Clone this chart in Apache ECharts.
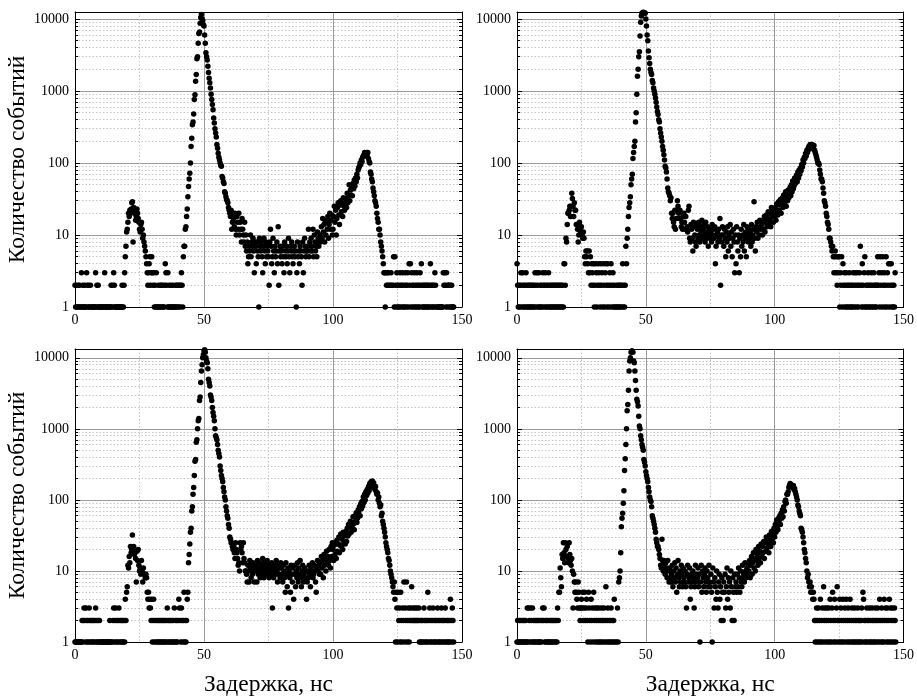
<!DOCTYPE html>
<html>
<head>
<meta charset="utf-8">
<title>Временные спектры задержек</title>
<script src="https://cdn.jsdelivr.net/npm/echarts@6/dist/echarts.min.js"></script>
<style>
  html, body { margin: 0; padding: 0; background: #fff; }
  #chart { width: 917px; height: 698px; }
</style>
</head>
<body>
<div id="chart"></div>
<script>
// Histogram bin width, ns: counts[i] belongs to delay i * BIN_NS
const BIN_NS = 0.25;

// Event counts per bin, 0 .. 150 ns (empty bins are 0 and not plotted)
const countsA = [
  2,1,2,1,1,2,1,2,1,1,3,1,2,1,1,2,1,1,3,2,
  1,2,1,1,2,1,0,1,1,1,1,1,3,1,2,1,2,1,1,1,
  1,1,0,1,1,1,3,1,1,1,1,0,1,1,1,1,2,1,2,1,
  3,2,1,1,1,1,0,1,1,1,1,1,1,2,1,1,2,3,5,7,
  11,12,15,20,18,22,20,23,28,29,8,24,20,22,16,18,23,20,17,15,
  12,11,14,15,12,9,10,8,7,6,5,4,3,2,3,4,5,2,3,5,
  3,2,3,1,2,1,3,1,1,2,1,1,2,1,2,1,2,1,1,2,
  4,3,2,1,3,1,2,1,1,2,1,1,2,1,1,1,2,1,2,1,
  2,1,2,1,2,3,2,1,5,7,7,12,13,18,23,34,47,60,72,100,
  170,220,340,370,480,760,890,1360,1700,2800,3000,4600,6300,6600,8700,10500,11500,10000,9500,8300,
  8000,6000,4600,3400,3000,2700,2200,1800,1500,1300,1100,900,760,650,550,420,360,300,260,230,
  180,160,137,120,110,100,92,90,65,62,55,52,40,38,34,31,30,28,24,22,
  20,18,22,12,15,20,17,13,20,12,10,18,15,12,20,10,15,12,8,17,
  12,10,8,15,7,10,6,8,4,5,7,6,10,5,8,7,9,6,3,8,
  7,4,8,6,5,1,9,7,6,8,5,3,7,9,6,4,8,5,7,6,
  5,2,8,12,7,4,5,9,6,3,7,5,6,8,4,13,2,6,7,5,
  6,4,7,5,3,8,6,5,7,4,6,9,5,3,7,6,8,5,4,6,
  7,5,6,1,3,8,5,6,4,7,6,5,2,8,3,6,9,7,5,6,
  6,7,12,5,8,6,9,7,6,12,5,10,8,6,7,5,11,9,7,8,
  10,8,13,9,17,11,14,8,15,10,16,12,18,9,14,20,12,16,19,10,
  12,18,25,15,22,10,17,24,28,19,14,26,30,21,27,18,33,25,22,28,
  32,24,38,28,35,50,30,42,36,45,35,52,44,58,48,62,55,70,62,80,
  85,90,100,95,110,105,120,125,130,140,125,135,140,130,140,115,105,100,75,70,
  60,55,45,40,35,30,28,25,20,17,15,12,12,10,8,7,6,5,4,3,
  3,1,3,2,3,2,3,2,0,2,3,2,0,2,5,1,5,2,1,3,
  2,1,2,1,3,2,1,2,3,1,2,1,3,2,1,2,3,1,4,2,
  4,1,3,2,1,2,3,1,2,1,3,2,1,2,1,3,2,4,1,2,
  1,2,1,2,1,2,1,2,1,2,1,4,2,1,2,1,2,1,3,2,
  1,0,1,1,0,1,1,1,1,1,1,3,2,3,2,1,3,2,1,2,
  2,1,2,1,2,1,1,1,0,0,0,0,0,0,0,0,0,0,0,0
];

const countsB = [
  4,2,1,2,1,2,3,1,2,3,1,2,1,2,3,1,2,1,2,1,
  2,1,2,1,2,1,2,1,3,2,1,3,2,1,3,1,2,1,2,1,
  3,2,1,2,3,1,2,1,2,3,1,2,1,2,1,2,1,2,1,2,
  1,2,1,2,1,2,1,2,1,2,1,2,1,4,4,2,9,8,14,20,
  20,22,25,18,25,38,32,25,18,28,22,22,14,14,12,8,10,15,12,11,
  13,10,9,11,9,5,4,6,5,6,4,3,6,3,5,2,4,3,2,4,
  1,2,4,3,1,2,4,3,2,1,4,2,3,1,4,2,1,3,4,2,
  1,4,2,1,3,2,4,1,2,3,1,2,1,0,1,2,1,2,1,2,
  1,2,1,2,4,1,2,1,2,7,4,9,12,18,24,28,34,50,60,70,
  115,140,170,200,370,500,900,1600,2000,3000,3500,5800,9000,11000,12000,12200,12400,12300,12200,12000,
  10000,8000,6000,5000,3600,2900,2400,2000,1800,1700,1400,1300,1100,1000,900,800,700,600,520,470,
  400,370,300,260,230,200,170,150,130,110,90,85,75,60,45,40,38,35,30,33,
  20,17,20,15,13,22,12,17,22,30,25,20,17,22,17,13,15,12,18,20,
  15,12,18,12,13,11,22,25,9,8,14,12,9,6,15,13,10,8,7,14,
  12,9,15,10,8,13,11,16,9,12,14,10,8,15,11,9,13,7,10,12,
  9,11,8,14,10,12,9,13,4,7,10,11,8,12,9,17,2,10,8,13,
  10,7,12,9,5,11,8,13,6,10,9,14,7,11,5,9,12,8,3,10,
  4,13,8,6,10,3,9,5,12,7,10,8,14,6,9,11,5,13,10,8,
  12,9,11,7,14,8,10,12,29,9,6,13,11,15,9,12,10,16,13,12,
  14,10,16,12,18,11,15,19,13,17,21,14,20,16,13,24,18,22,15,20,
  18,24,16,27,21,19,29,22,26,31,20,28,33,24,36,27,30,40,25,35,
  30,42,33,38,46,35,50,40,56,44,48,62,52,58,68,55,75,62,80,70,
  85,78,95,88,110,100,120,115,135,125,150,140,160,170,155,180,165,175,180,160,
  170,175,150,140,130,120,110,100,100,95,80,70,60,60,55,45,38,30,28,25,
  20,18,15,14,12,9,9,8,7,6,7,5,3,5,6,3,5,2,3,5,
  5,1,3,2,5,1,4,2,3,1,2,3,1,2,1,2,3,1,2,1,
  2,1,3,2,1,3,2,1,3,2,1,2,3,7,2,1,4,2,1,3,
  5,1,2,1,2,3,1,2,1,2,3,1,2,1,3,2,1,2,1,2,
  5,2,3,1,5,2,3,1,5,2,3,1,2,5,1,3,2,4,1,4,
  2,4,1,2,1,2,1,3,0,0,0,0,0,0,0,0,0,0,0,0
];

const countsC = [
  1,1,1,1,0,1,1,1,1,1,1,2,1,2,3,2,1,3,2,1,
  2,1,3,2,1,2,1,2,1,2,1,2,3,1,2,1,2,1,2,1,
  1,0,1,1,1,0,1,1,1,0,1,1,1,1,2,1,1,0,1,2,
  3,1,2,3,1,2,1,2,3,1,2,1,2,1,2,1,2,1,4,2,
  5,6,12,11,16,13,22,18,20,32,20,22,17,18,15,7,19,14,20,12,
  10,11,9,14,10,7,11,9,9,8,9,8,5,4,5,3,4,3,2,4,
  1,2,4,1,2,0,1,2,1,2,1,2,1,2,1,2,1,2,1,2,
  1,2,1,3,2,1,2,1,2,1,2,1,2,1,3,1,2,1,2,1,
  2,4,3,2,1,3,2,1,2,5,1,2,1,2,4,5,13,17,24,35,
  40,70,80,120,150,220,350,370,650,700,1000,1300,1400,2500,2800,4500,6500,8000,10000,11000,
  12500,13000,12000,10000,9000,8500,7000,5000,4500,4000,3000,2800,2500,2000,1700,1500,1300,1000,800,750,
  700,600,500,450,400,300,260,220,200,180,150,130,110,100,80,70,60,55,45,40,
  30,28,25,25,22,20,22,18,15,25,20,18,15,12,13,10,25,20,22,18,
  13,25,15,13,10,10,9,7,12,10,7,14,11,8,12,9,13,10,7,11,
  12,10,7,14,9,11,13,8,10,12,9,15,11,8,13,10,12,9,14,11,
  10,8,12,11,9,13,3,10,8,12,11,9,14,10,7,12,9,11,8,13,
  11,9,7,12,10,8,5,13,9,6,11,3,10,8,5,12,9,7,11,4,
  9,12,6,10,8,13,7,11,9,14,8,6,10,12,7,9,11,8,10,4,
  7,10,8,12,9,6,11,10,13,8,9,12,10,7,5,11,14,10,12,9,
  13,9,16,11,14,8,17,12,15,10,19,13,16,12,20,14,11,22,16,25,
  20,14,23,17,25,15,27,19,24,30,18,23,33,22,28,20,35,25,31,24,
  36,26,40,31,45,33,42,50,35,47,40,58,46,38,60,50,66,48,55,72,
  68,80,60,88,75,95,82,110,92,120,100,130,115,140,125,155,135,170,150,180,
  165,185,160,175,150,140,155,130,120,125,100,110,90,80,85,60,65,50,45,40,
  35,30,25,22,20,18,15,14,12,10,9,8,7,6,5,7,4,1,5,3,
  1,5,2,3,1,5,2,1,3,2,7,1,3,2,7,1,2,3,1,2,
  3,2,6,2,3,2,2,3,2,2,3,2,2,3,1,2,1,2,1,2,
  1,3,2,1,2,1,2,5,1,2,3,1,2,1,2,3,1,2,1,2,
  1,2,3,1,2,1,2,1,3,2,1,2,1,2,3,1,2,1,2,1,
  2,1,4,2,1,3,2,1,0,0,0,0,0,0,0,0,0,0,0,0
];

const countsD = [
  1,2,1,1,2,1,2,1,1,2,1,2,1,2,1,1,3,1,3,2,
  1,3,2,1,3,1,2,1,2,1,2,1,2,1,2,1,1,2,1,2,
  3,2,3,1,2,1,2,1,2,1,1,2,1,2,1,2,1,2,1,2,
  1,2,1,3,2,5,5,11,8,6,17,15,25,18,13,25,20,16,22,15,
  13,25,17,14,12,15,10,3,9,7,5,7,5,4,3,7,5,3,2,3,
  4,3,5,2,3,5,2,3,4,2,1,5,3,2,1,4,2,3,1,5,
  2,3,1,2,3,1,2,3,1,2,1,3,2,1,2,3,1,2,6,1,
  2,3,1,2,1,2,3,1,2,1,2,4,1,0,1,0,3,1,7,8,
  10,18,42,55,65,90,135,260,380,600,1000,1800,2200,3500,6500,9000,10000,12000,12500,12500,
  12000,9000,8500,6500,4800,3500,2600,2400,2100,1500,1100,1000,800,700,600,550,500,370,340,300,
  250,220,200,180,150,130,110,100,95,80,60,55,50,45,40,35,28,25,22,22,
  20,17,15,12,11,28,14,10,14,12,9,13,11,8,14,10,7,11,8,7,
  9,12,6,10,8,13,7,11,5,9,14,8,6,10,7,12,9,6,11,8,
  7,10,6,3,9,12,7,8,11,4,6,9,7,10,8,3,6,12,7,9,
  8,11,6,9,1,7,12,5,10,8,6,9,11,7,5,10,8,6,12,7,
  6,9,5,1,11,7,3,8,6,4,10,5,3,7,9,4,6,2,8,5,
  2,7,5,9,3,6,11,4,8,5,7,3,10,6,2,8,5,2,9,6,
  7,5,9,6,11,8,5,10,7,6,12,8,9,7,13,10,8,11,9,12,
  10,14,8,12,16,9,13,18,11,15,10,20,14,17,12,22,15,19,13,24,
  16,22,18,26,15,25,19,30,21,28,24,18,32,26,22,36,28,33,25,40,
  30,45,35,52,42,38,55,48,60,45,65,55,72,58,80,70,95,100,90,120,
  120,130,150,160,170,165,160,155,150,160,140,145,130,120,110,100,85,80,70,65,
  60,40,38,35,30,25,20,18,15,13,10,8,9,7,6,7,5,6,5,4,
  5,4,2,1,2,3,1,2,3,1,2,4,1,2,3,1,6,2,3,1,
  2,3,1,2,3,1,4,2,1,3,5,2,1,4,2,1,3,6,2,1,
  2,4,1,3,2,1,4,2,1,3,2,4,1,2,3,1,2,4,1,2,
  3,1,2,1,3,2,1,2,1,3,2,1,2,1,2,3,1,5,4,2,
  1,2,1,3,2,1,2,3,1,2,1,3,2,1,2,1,3,2,1,2,
  3,1,2,4,1,2,3,1,2,1,4,2,3,1,2,3,1,2,4,1,
  3,2,1,3,2,1,3,2,1,0,0,0,0,0,0,0,0,0,0,0
];

// Axis texts and tick labels
const xTitle = 'Задержка, нс';
const yTitle = 'Количество событий';
const xTickLabels = ['0', '50', '100', '150'];
const yTickLabels = ['1', '10', '100', '1000', '10000'];

const SERIF = '"Liberation Serif", "Times New Roman", "DejaVu Serif", serif';

// Panel layout: box = [left, top, width, height] of the plot frame
const panels = [
  { counts: countsA, box: [75, 12, 387, 295], yMax: 12500, yName: true,  xName: false },
  { counts: countsB, box: [517, 12, 387, 295], yMax: 12500, yName: false, xName: false },
  { counts: countsC, box: [75, 349, 387, 296], yMax: 13300, yName: true,  xName: true },
  { counts: countsD, box: [517, 349, 387, 296], yMax: 13300, yName: false, xName: true }
];

function toPoints(counts) {
  const pts = [];
  counts.forEach((c, i) => { if (c > 0) pts.push([i * BIN_NS, c]); });
  return pts;
}

function yLabel(v) {
  for (const t of yTickLabels) {
    const n = Number(t);
    if (Math.abs(v - n) / n < 1e-6) return t;
  }
  return '';
}
function xLabel(v) {
  return xTickLabels.indexOf(String(v)) >= 0 ? String(v) : '';
}

const grid = [], xAxis = [], yAxis = [], series = [];
const majorGrid = { show: true, showMinLine: false, showMaxLine: false, lineStyle: { color: '#9a9a9a', width: 1, type: 'solid' } };
const minorGrid = { show: true, lineStyle: { color: '#c4c4c4', width: 1, type: [1.5, 2] } };
const frame = { show: true, onZero: false, lineStyle: { color: '#000', width: 1 } };

panels.forEach((p, i) => {
  const [left, top, width, height] = p.box;
  grid.push({ left, top, width, height, containLabel: false });

  // bottom axis with labels, top axis as frame
  xAxis.push({
    type: 'value', gridIndex: i, position: 'bottom', min: 0, max: 150, interval: 50,
    axisLine: frame,
    axisTick: { show: false },
    minorTick: { show: false, splitNumber: 2 },
    splitLine: majorGrid,
    minorSplitLine: minorGrid,
    axisLabel: { color: '#000', fontFamily: SERIF, fontSize: 14, margin: 6, formatter: xLabel },
    name: p.xName ? xTitle : '',
    nameLocation: 'middle', nameGap: 31,
    nameTextStyle: { color: '#000', fontFamily: SERIF, fontSize: 23.5 }
  });
  xAxis.push({
    type: 'value', gridIndex: i, position: 'top', min: 0, max: 150, interval: 50,
    axisLine: frame, axisTick: { show: false }, axisLabel: { show: false }, splitLine: { show: false }
  });

  // left log axis with labels, right log axis carrying inner ticks
  const ticks = { show: true, inside: true, length: 5, lineStyle: { color: '#000', width: 1 } };
  const minorTicks = { show: true, splitNumber: 9, length: 3, lineStyle: { color: '#000', width: 1 } };
  yAxis.push({
    type: 'log', logBase: 10, gridIndex: i, position: 'left', min: 1, max: p.yMax,
    axisLine: frame,
    axisTick: ticks,
    minorTick: minorTicks,
    splitLine: majorGrid,
    minorSplitLine: minorGrid,
    axisLabel: { color: '#000', fontFamily: SERIF, fontSize: 14, margin: 6, formatter: yLabel, showMaxLabel: false },
    name: p.yName ? yTitle : '',
    nameLocation: 'middle', nameGap: 39,
    nameTextStyle: { color: '#000', fontFamily: SERIF, fontSize: 23.5 }
  });
  yAxis.push({
    type: 'log', logBase: 10, gridIndex: i, position: 'right', min: 1, max: p.yMax,
    axisLine: frame,
    axisTick: ticks,
    minorTick: minorTicks,
    splitLine: { show: false },
    axisLabel: { show: false }
  });

  series.push({
    type: 'scatter',
    xAxisIndex: 2 * i, yAxisIndex: 2 * i,
    data: toPoints(p.counts),
    symbol: 'circle', symbolSize: 5.5,
    itemStyle: { color: '#000', opacity: 1 },
    clip: true,
    silent: true
  });
});

const chart = echarts.init(document.getElementById('chart'), null, { renderer: 'canvas' });
chart.setOption({
  backgroundColor: '#fff',
  animation: false,
  grid, xAxis, yAxis, series
});
</script>
</body>
</html>
